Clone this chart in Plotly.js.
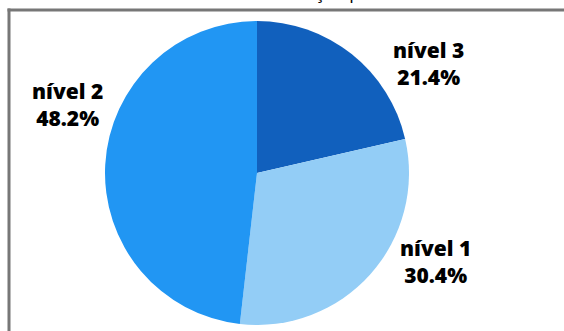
<!DOCTYPE html>
<html>
<head>
<meta charset="utf-8">
<script src="https://cdn.plot.ly/plotly-3.0.1.min.js"></script>
<style>html,body{margin:0;padding:0;background:#fff;}#chart{width:564px;height:331px;}</style>
</head>
<body>
<div id="chart"></div>
<script>
const labels = ["nível 3", "nível 1", "nível 2"];
const values = [21.4, 30.4, 48.2];
const colors = ["#1160BD", "#93CDF6", "#2196F3"];
const titleText = "Distribuição por nível";

const W = 564, H = 331;
// label anchor positions in pixels (layout only)
const labelPos = [[428, 64], [435, 261], [67, 104]];

const total = values.reduce((a, b) => a + b, 0);
const trace = {
  type: "pie",
  labels: labels,
  values: values,
  sort: false,
  direction: "clockwise",
  rotation: 0,
  marker: {colors: colors, line: {width: 0}},
  textinfo: "none",
  showlegend: false,
  hoverinfo: "none",
  domain: {x: [105 / W, 409 / W], y: [6 / H, 310 / H]}
};
const labelAnns = labels.map((lab, i) => ({
  text: lab + "<br>" + (values[i] / total * 100).toFixed(1) + "%",
  xref: "paper", yref: "paper",
  x: labelPos[i][0] / W, y: 1 - labelPos[i][1] / H,
  xanchor: "center", yanchor: "middle", align: "center",
  showarrow: false,
  font: {family: "Open Sans", size: 21, color: "#000", weight: 800}
}));
const layout = {
  width: W, height: H,
  margin: {l: 0, r: 0, t: 0, b: 0},
  paper_bgcolor: "#fff",
  showlegend: false,
  annotations: [{
    text: titleText, xref: "paper", yref: "paper",
    x: 242 / W, y: 1 - 6 / H, xanchor: "left", yanchor: "bottom",
    showarrow: false, font: {family: "Open Sans", size: 18, color: "#000"}
  }].concat(labelAnns),
  shapes: [
    {type: "line", xref: "paper", yref: "paper", x0: 9 / W, x1: 9 / W, y0: 0, y1: 1 - 8.5 / H, line: {color: "#777", width: 3}},
    {type: "line", xref: "paper", yref: "paper", x0: 7.5 / W, x1: 1, y0: 1 - 10 / H, y1: 1 - 10 / H, line: {color: "#777", width: 3}}
  ]
};
Plotly.newPlot("chart", [trace], layout, {staticPlot: true});
</script>
</body>
</html>
